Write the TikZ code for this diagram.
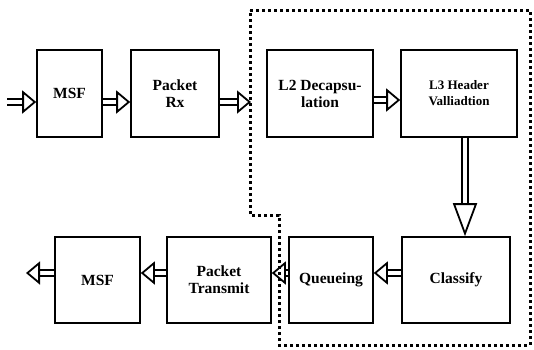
\documentclass[tikz,border=0pt]{standalone}
\usepackage{fontspec}
\setmainfont{Liberation Serif}
\usetikzlibrary{arrows.meta, positioning, calc}

\tikzset{
  block/.style={rectangle, draw, line width=1.6pt, minimum height=87pt,
                inner sep=2pt, align=center,
                font=\fontsize{15.5}{17}\selectfont\bfseries},
  flow/.style={double, double distance=4pt, line width=1.8pt,
               -{Triangle[open, length=14pt, width=23pt]}},
  region/.style={line width=3pt, dash pattern=on 3pt off 3pt}
}

\begin{document}
\begin{tikzpicture}[x=1pt, y=-1pt]
  % fixed frame
  \path[use as bounding box] (0,0) rectangle (534,349);

  % receive path
  \node[block, minimum width=65pt] (msfin) at (69.5,93.5) {MSF};
  \node[block, minimum width=88pt] (pktrx) at (175,93.5) {Packet\\Rx};
  \node[block, minimum width=106pt] (l2dec) at (320,93.5) {L2 Decapsu-\\lation};
  \node[block, minimum width=116pt,
        font=\fontsize{13}{16}\selectfont\bfseries] (l3val) at (459,93.5) {L3 Header\\Valliadtion};

  % transmit path
  \node[block, minimum width=108pt, minimum height=86pt] (classify) at (456,280) {Classify};
  \node[block, minimum width=84pt, minimum height=86pt] (queue) at (331,280) {Queueing};
  \node[block, minimum width=104pt, minimum height=86pt] (pkttx) at (219,280) {Packet\\Transmit};
  \node[block, minimum width=85pt, minimum height=86pt] (msfout) at (97.5,280) {MSF};

  % free ends
  \coordinate (src) at (7,102);
  \coordinate (edge) at (251,102);
  \coordinate (sink) at (26,273);

  % dotted processing region
  \draw[region] (250,10) -- (530,10) -- (530,345) -- (279,345)
                -- (279,215) -- (250,215) -- cycle;

  % arrows
  \draw[flow] (src) -- (msfin.west |- src);
  \draw[flow] (msfin.east |- src) -- (pktrx.west |- src);
  \draw[flow] (pktrx.east |- src) -- (edge);
  \draw[flow] ([yshift=-6.5pt]l2dec.east) -- ([yshift=-6.5pt]l3val.west);
  \draw[flow, -{Triangle[open, length=33pt, width=24pt]}]
        ([xshift=6pt]l3val.south) -- ([xshift=9pt]classify.north);
  \draw[flow] (classify.west |- sink) -- (queue.east |- sink);
  \draw[flow] (queue.west |- sink) -- (pkttx.east |- sink);
  \draw[flow] (pkttx.west |- sink) -- (msfout.east |- sink);
  \draw[flow] (msfout.west |- sink) -- (sink);
\end{tikzpicture}
\end{document}
